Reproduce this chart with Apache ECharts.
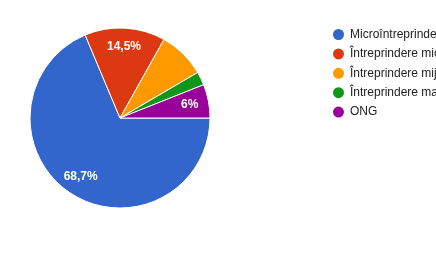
<!DOCTYPE html>
<html><head><meta charset="utf-8">
<script src="https://cdn.jsdelivr.net/npm/echarts@6/dist/echarts.min.js"></script>
<style>html,body{margin:0;padding:0;background:#fff}#c{width:436px;height:274px}</style>
</head><body><div id="c"></div>
<script>
const categories = ["Microîntreprindere", "Întreprindere mică", "Întreprindere mijlocie", "Întreprindere mare", "ONG"];
const counts = [57, 12, 7, 2, 5];
const colors = ["#3366cc", "#dc3912", "#ff9900", "#109618", "#990099"];
const shownLabels = [true, true, false, false, true];

const total = counts.reduce((a, b) => a + b, 0);
function pct(v) {
  const p = Math.round(v / total * 1000) / 10;
  return (Number.isInteger(p) ? String(p) : p.toFixed(1).replace('.', ',')) + '%';
}
const data = categories.map((n, i) => ({ name: n, value: counts[i], itemStyle: { color: colors[i] } }));
const labelData = categories.map((n, i) => ({
  name: n, value: counts[i],
  itemStyle: { color: 'rgba(0,0,0,0)' },
  label: { show: shownLabels[i] }
}));

const chart = echarts.init(document.getElementById('c'), null, { renderer: 'canvas' });
chart.setOption({
  animation: false,
  textStyle: { fontFamily: 'Arial, "Liberation Sans", sans-serif' },
  legend: {
    orient: 'vertical', left: 326, top: 22,
    icon: 'circle', itemWidth: 13, itemHeight: 13, itemGap: 4.4,
    textStyle: { fontSize: 12, color: '#222', fontFamily: 'Arial, "Liberation Sans", sans-serif' },
    data: categories.map((n, i) => ({ name: n, itemStyle: { color: colors[i] } }))
  },
  series: [{
    type: 'pie', center: [120, 118], radius: [0, 90],
    startAngle: 0, clockwise: true,
    label: { show: false }, labelLine: { show: false },
    itemStyle: { borderColor: '#fff', borderWidth: 1 },
    emphasis: { disabled: true },
    data: data
  }, {
    type: 'pie', center: [120, 118], radius: [46, 90],
    startAngle: 0, clockwise: true, silent: true,
    legendHoverLink: false,
    label: {
      position: 'inside', color: '#fff', fontSize: 12, fontWeight: 'bold',
      fontFamily: 'Arial, "Liberation Sans", sans-serif',
      formatter: p => pct(p.value)
    },
    labelLine: { show: false },
    emphasis: { disabled: true },
    tooltip: { show: false },
    data: labelData
  }]
});
</script></body></html>
